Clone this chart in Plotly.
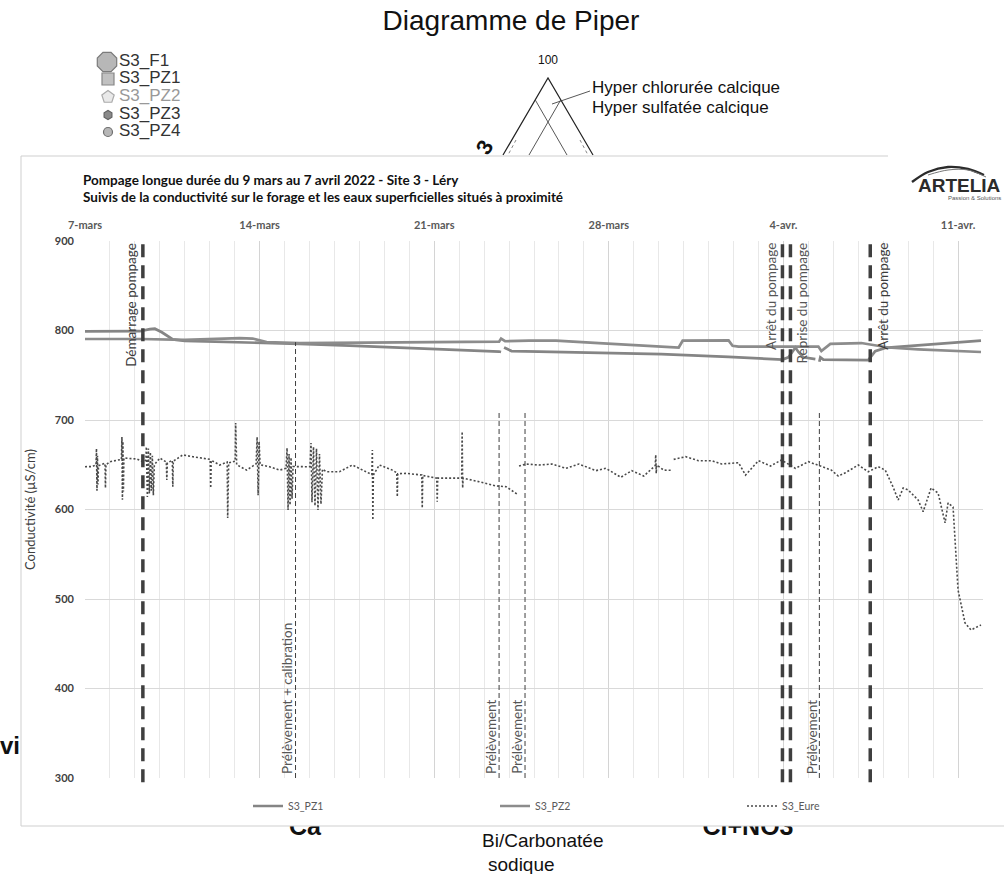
import plotly.graph_objects as go
import pandas as pd

W, H = 1004, 874
START = "2022-03-07"

# ---------------- data (time in days since START, values in µS/cm) ----------------
PZ1_DAYS = [0.0, 2.2, 2.6, 2.8, 3.08, 3.52, 4.0, 7.0, 8.6, 10.6, 12.6, 14.6, 16.6, 16.68, None,
            16.8, 17.1, 18.2, 20.5, 23.1, 25.8, 27.8, 27.96, 28.2, 28.48, 28.6, 28.8, 29.28, None,
            29.44, 29.48, 29.6, 31.4, 31.68, 32.08, 32.72, 33.8, 35.1, 35.92]
PZ1_VALUES = [799, 799.2, 801.5, 802, 798, 790, 788.5, 786.5, 785, 783, 781, 779, 776.5, 776, None,
              781, 777, 776.5, 775.4, 773.6, 770.6, 768, 767.5, 770, 781, 776, 770, 768, None,
              765, 770, 767.5, 767, 777, 780.5, 782, 784, 787, 788.6]

PZ2_DAYS = [0.0, 2.2, 4.0, 5.12, 6.2, 6.72, 7.28, 8.6, 12.6, 16.6, 16.68, 16.84, 17.8, 18.88, 20.6,
            23.52, 23.8, 23.96, 25.8, 25.96, 26.2, 27.8, 29.4, 29.52, 29.64, 29.88, 31.12, 31.6,
            32.2, 33.4, 35.92]
PZ2_VALUES = [790.5, 790.5, 789.5, 790.5, 791.5, 791, 787, 786, 786.5, 787.5, 791, 788, 788.6, 788.6, 786,
              781, 781, 788.6, 789, 783, 782, 782, 782, 777, 780, 785, 786, 784,
              781, 779, 776]

EURE_DAYS = [0.00, 0.30, 0.44, 0.46, 0.48, 0.50, 0.52, 0.54, 0.80, 0.82, 0.84, 1.00,
             1.46, 1.48, 1.50, 1.52, 1.54, 1.56, 2.08, 2.32, 2.44, 2.46, 2.50, 2.54, 2.58,
             2.62, 2.66, 2.70, 2.74, 2.78, 3.00, 3.26, 3.28, 3.30, 3.50, 3.52, 3.54, 3.92,
             4.32, 4.88, 5.02, 5.04, 5.06, 5.40, 5.70, 5.72, 5.76, 6.02, 6.04, 6.08, 6.48,
             6.86, 6.90, 6.94, 6.98, 7.02, 7.40, 7.80, 8.06, 8.10, 8.14, 8.18, 8.22, 8.26,
             8.30, 8.34, 8.48, 8.88, 9.02, 9.06, 9.10, 9.16, 9.22, 9.28, 9.34, 9.40, 9.46,
             9.52, 9.68, 10.20, 10.72, 11.12, 11.50, 11.52, 11.54, 11.56, 11.80, 12.32,
             12.50, 12.52, 12.54, 12.88, 13.50, 13.52, 13.54, 14.10, 14.12, 14.14, 14.60,
             15.10, 15.12, 15.14, 15.16, 15.80, 16.48, 16.88, 17.32, None,
             17.40, 17.68, 18.20, 18.72, 19.28, 19.80, 20.48, 20.88, 21.48, 21.92, 22.40,
             22.86, 22.88, 22.90, 22.92, 23.20, 23.52, None,
             23.60, 24.08, 24.60, 25.12, 25.52, 26.20, 26.48, 27.00, 27.48, 27.92, 28.48,
             29.00, 29.48, 29.92, 30.20, 30.48, 31.00, 31.40, 31.80, 32.08, 32.40, 32.60,
             32.80, 33.00, 33.40, 33.60, 33.92, 34.20, 34.48, 34.60, 34.80, 34.88, 35.00,
             35.28, 35.52, 35.92]
EURE_VALUES = [647.8, 648.0, 650, 668, 621, 660, 628, 649, 651.6, 624, 650, 653.4,
               656, 681, 611, 676, 620, 657.5, 656.4, 653.4, 655, 670, 614, 668, 618,
               664, 621, 660, 616, 650, 657.5, 653, 633, 652, 655, 625.5, 654, 661,
               659, 657.2, 656, 624, 655, 649.7, 653, 590.5, 652, 654, 696.6, 650, 644,
               651, 681, 616, 676, 650, 647.8, 644, 646, 668.7, 599.4, 662, 605, 658,
               612, 648, 647.8, 647.8, 648, 674.3, 608, 670, 604, 668, 599.4, 662, 606,
               645, 642.2, 642.2, 649.7, 644, 639, 666.5, 588.3, 638.5, 649.7, 644,
               641, 614.3, 640, 640.4, 638.5, 601.7, 638, 635, 608.7, 635, 634.9,
               635, 687, 624, 635, 631, 626.3, 625.5, 617.3, None,
               648.6, 650.8, 649.7, 650.8, 646, 650.8, 643.4, 646, 636, 643.4, 637.4,
               649, 661, 640.4, 649.7, 644, 643.8, None,
               656, 659, 654.5, 654.5, 650.8, 652.3, 638.5, 654.5, 648.6, 655.3, 646,
               653.4, 648.6, 644, 637.4, 641, 649.7, 642.2, 647.8, 644, 624.8, 610.6,
               624, 621.8, 610.6, 597.6, 624, 618.4, 585, 607.3, 602.8, 566, 510,
               473.2, 465.4, 471]

TICK_DAYS = [0, 7, 14, 21, 28, 35]
TICK_TEXT = ["7-mars", "14-mars", "21-mars", "28-mars", "4-avr.", "11-avr."]
Y_TICKS = [300, 400, 500, 600, 700, 800, 900]
X_RANGE_DAYS = [0, 36]
Y_RANGE = [300, 900]

EVENT_DAYS = [2.32, 8.44, 16.6, 17.64, 27.96, 28.28, 29.44, 31.48]
EVENT_LABELS = ["Démarrage pompage", "Prélèvement + calibration", "Prélèvement", "Prélèvement",
                "Arrêt du pompage", "Reprise du pompage", "Prélèvement", "Arrêt du pompage"]
EVENT_MAJOR = [True, False, False, False, True, True, False, True]
EVENT_TOP = [None, 787, 709, 709, None, None, 708, None]
EVENT_LABEL_SIDE = [-1, -1, -1, -1, -1, 1, -1, 1]

PIPER_LEGEND_NAMES = ["S3_F1", "S3_PZ1", "S3_PZ2", "S3_PZ3", "S3_PZ4"]

# ---------------- helpers ----------------
t0 = pd.Timestamp(START)


def to_dates(days):
    return [None if d is None else t0 + pd.to_timedelta(d, unit="D") for d in days]


def px(x):
    return x / W


def py(y):
    return 1 - y / H


# plot area in pixels
PL, PR, PT, PB = 85, 983, 241, 778

fig = go.Figure()
AR = "Liberation Sans"
BG = dict(showlegend=False, hoverinfo="skip", xaxis="x", yaxis="y")

# ---------------- background (Piper diagram) subplot in pixel space ----------------
fig.add_trace(go.Scatter(x=[503, 548, 593], y=[155, 78, 155], mode="lines",
                         line=dict(color="#222", width=1.2), **BG))
fig.add_trace(go.Scatter(x=[535.3, 567, None, 560.7, 529, None, 552, 590],
                         y=[100, 155, None, 100, 155, None, 104, 91], mode="lines",
                         line=dict(color="#444", width=0.9), **BG))
fig.add_trace(go.Scatter(x=[516, 508, None, 580, 588], y=[140, 155, None, 140, 155], mode="lines",
                         line=dict(color="#666", width=0.8, dash="dot"), **BG))
fig.add_trace(go.Scatter(
    x=[107, 108, 108, 108, 108], y=[62, 79, 97, 115, 132], mode="markers",
    marker=dict(symbol=["octagon", "square", "pentagon", "hexagon", "circle"],
                size=[21, 12, 13, 9, 9],
                color=["#9a9a9a", "#a8a8a8", "#e0e0e0", "#5a5a5a", "#9a9a9a"],
                line=dict(color=["#444", "#555", "#888", "#222", "#333"], width=1.2)),
    **BG))
fig.add_trace(go.Scatter(
    x=[119] * 5, y=[62, 79, 97, 115, 132], mode="text", text=PIPER_LEGEND_NAMES,
    textposition=["middle right"] * 5,
    textfont=dict(family=AR, size=17, color=["#333", "#333", "#999", "#333", "#333"]),
    **BG))
fig.add_trace(go.Scatter(
    x=[511, 548, 592, 592, 0, 305, 748, 482, 488],
    y=[23, 61, 89, 109, 748, 829, 829, 842, 866],
    mode="text",
    text=["Diagramme de Piper", "100", "Hyper chlorurée calcique", "Hyper sulfatée calcique",
          "<b>vi</b>", "<b>Ca</b>", "<b>Cl+NO3</b>", "Bi/Carbonatée", "sodique"],
    textposition=["middle center", "middle center", "middle right", "middle right",
                  "middle right", "middle center", "middle center", "middle right", "middle right"],
    textfont=dict(family=AR, size=[28, 12, 17, 17, 24, 25, 25, 19, 19], color="#111"),
    **BG))
# white box of the conductivity chart (covers the Piper diagram)
fig.add_trace(go.Scatter(x=[21, 1010, 1010, 21, 21], y=[156, 156, 826, 826, 156], mode="lines",
                         fill="toself", fillcolor="white", line=dict(color="rgba(0,0,0,0)", width=0),
                         **BG))
fig.add_trace(go.Scatter(x=[888, 21, 21, 1010], y=[156, 156, 826, 826], mode="lines",
                         line=dict(color="#cfcfcf", width=1), **BG))
# ARTELIA swoosh
fig.add_trace(go.Scatter(x=[912, 928, 948, 968, 984], y=[182, 172, 167, 169, 175], mode="lines",
                         line=dict(color="#2b2b2b", width=2.4, shape="spline"), **BG))
fig.add_trace(go.Scatter(x=[928, 948, 968, 986], y=[175, 170, 170, 177], mode="lines",
                         line=dict(color="#777", width=1, shape="spline"), **BG))

# ---------------- main chart ----------------
fig.add_trace(go.Scatter(x=to_dates(PZ1_DAYS), y=PZ1_VALUES, name="S3_PZ1", mode="lines",
                         line=dict(color="#858585", width=2.7), connectgaps=False,
                         xaxis="x2", yaxis="y2"))
fig.add_trace(go.Scatter(x=to_dates(PZ2_DAYS), y=PZ2_VALUES, name="S3_PZ2", mode="lines",
                         line=dict(color="#8c8c8c", width=2.7), connectgaps=False,
                         xaxis="x2", yaxis="y2"))
fig.add_trace(go.Scatter(x=to_dates(EURE_DAYS), y=EURE_VALUES, name="S3_Eure", mode="lines",
                         line=dict(color="#4a4a4a", width=1.6, dash="2px,2px"), connectgaps=False,
                         xaxis="x2", yaxis="y2"))

shapes = []
annotations = []
for d, lab, major, top, side in zip(EVENT_DAYS, EVENT_LABELS, EVENT_MAJOR, EVENT_TOP, EVENT_LABEL_SIDE):
    xd = t0 + pd.to_timedelta(d, unit="D")
    if major:
        shapes.append(dict(type="line", xref="x2", yref="y2 domain", x0=xd, x1=xd, y0=-0.008, y1=1,
                           line=dict(color="#3f3f3f", width=3.5, dash="13px,8px"), layer="above"))
        annotations.append(dict(x=xd, xref="x2", xshift=side * 12, y=1, yref="y2 domain",
                                yanchor="top", xanchor="center", text=lab, textangle=-90,
                                showarrow=False, font=dict(family="Lato", size=13.5, color="#555")))
    else:
        shapes.append(dict(type="line", xref="x2", yref="y2", x0=xd, x1=xd, y0=Y_RANGE[0], y1=top,
                           line=dict(color="#3f3f3f", width=1, dash="5px,3px"), layer="above"))
        annotations.append(dict(x=xd, xref="x2", xshift=side * 8, y=0.004, yref="y2 domain",
                                yanchor="bottom", xanchor="center", text=lab, textangle=-90,
                                showarrow=False, font=dict(family="Lato", size=13.5, color="#555")))
annotations[0]["font"]["color"] = "#3a3a3a"
annotations[-1]["font"]["color"] = "#3a3a3a"

# titles
annotations += [
    dict(x=px(81), y=py(180), xref="paper", yref="paper", xanchor="left", yanchor="middle",
         text="<b>Pompage longue durée du 9 mars au 7 avril 2022 - Site 3 - Léry</b>",
         showarrow=False, font=dict(family="Lato", size=13.5, color="#111")),
    dict(x=px(81), y=py(197), xref="paper", yref="paper", xanchor="left", yanchor="middle",
         text="<b>Suivis de la conductivité sur le forage et les eaux superficielles situés à proximité</b>",
         showarrow=False, font=dict(family="Lato", size=13.5, color="#111")),
    dict(x=px(30), y=py(510), xref="paper", yref="paper", xanchor="center", yanchor="middle",
         text="Conductivité (µS/cm)", textangle=-90, showarrow=False,
         font=dict(family="Lato", size=13, color="#404040")),
    dict(x=px(1003), y=py(185), xref="paper", yref="paper", xanchor="right", yanchor="middle",
         text="<b>ARTELIA</b>", showarrow=False, font=dict(family="Liberation Sans", size=19, color="#2b2b2b")),
    dict(x=px(1003), y=py(198), xref="paper", yref="paper", xanchor="right", yanchor="middle",
         text="Passion & Solutions", showarrow=False, font=dict(family="Liberation Sans", size=6, color="#555")),
    dict(x=px(484), y=py(147), xref="paper", yref="paper", xanchor="center", yanchor="middle",
         text="<b>3</b>", textangle=-60, showarrow=False, font=dict(family=AR, size=22, color="#111")),
]

fig.update_layout(
    width=W, height=H, margin=dict(l=0, r=0, t=0, b=0, autoexpand=False),
    paper_bgcolor="white", plot_bgcolor="rgba(0,0,0,0)",
    xaxis=dict(domain=[0, 1], range=[0, W], visible=False, fixedrange=True, automargin=False),
    yaxis=dict(domain=[0, 1], range=[H, 0], visible=False, fixedrange=True, automargin=False),
    xaxis2=dict(domain=[PL / W, PR / W], anchor="y2", type="date", side="top", automargin=False,
                range=to_dates(X_RANGE_DAYS),
                tickmode="array", tickvals=to_dates(TICK_DAYS), ticktext=TICK_TEXT,
                showgrid=True, gridcolor="#d4d4d4", gridwidth=1,
                minor=dict(tickmode="linear", tick0=START, dtick=86400000, showgrid=True,
                           gridcolor="#e8e8e8", gridwidth=1),
                showline=False, zeroline=False, ticks="", ticklabelstandoff=9,
                tickfont=dict(family="Lato", size=11, color="#595959", weight="bold")),
    yaxis2=dict(domain=[1 - PB / H, 1 - PT / H], anchor="x2", range=Y_RANGE, automargin=False,
                tickmode="array", tickvals=Y_TICKS, showgrid=True, gridcolor="#d9d9d9", gridwidth=1.2,
                showline=False, zeroline=False, ticks="", ticklabelstandoff=10,
                tickfont=dict(family="Lato", size=11, color="#404040", weight="bold")),
    legend=dict(orientation="h", x=px(248), xanchor="left", y=py(806), yanchor="middle",
                entrywidth=202, entrywidthmode="pixels", bgcolor="rgba(0,0,0,0)",
                font=dict(family="Lato", size=10.5, color="#595959")),
    shapes=shapes, annotations=annotations,
)

fig.write_html("out.html")
